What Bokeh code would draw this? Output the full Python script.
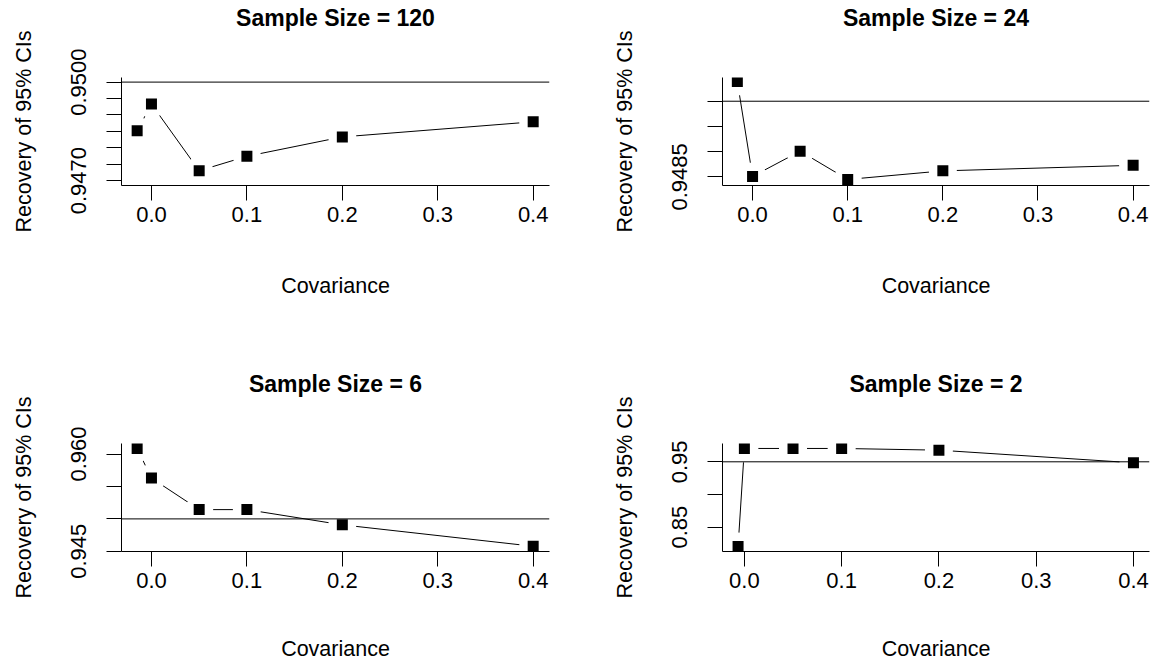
from bokeh.plotting import figure
from bokeh.models import (Range1d, FixedTicker, NumeralTickFormatter, Span,
                          LinearAxis)
from bokeh.layouts import gridplot
from bokeh.embed import file_html
from bokeh.resources import INLINE

# Coverage of nominal 95% confidence intervals by covariance, one panel per sample size
cov_120 = [-0.015, 0.0, 0.05, 0.1, 0.2, 0.4]
rec_120 = [0.94852, 0.94933, 0.94730, 0.94774, 0.94833, 0.94879]

cov_24 = [-0.016, 0.0, 0.05, 0.1, 0.2, 0.4]
rec_24 = [0.95039, 0.94851, 0.94901, 0.94845, 0.94862, 0.94873]

cov_6 = [-0.015, 0.0, 0.05, 0.1, 0.2, 0.4]
rec_6 = [0.96087, 0.95629, 0.95143, 0.95143, 0.94908, 0.94578]

cov_2 = [-0.0065, 0.0, 0.05, 0.1, 0.2, 0.4]
rec_2 = [0.8204, 0.9704, 0.9704, 0.9704, 0.9678, 0.9485]

nominal = 0.95

x_ticks = [0.0, 0.1, 0.2, 0.3, 0.4]

# labelled y ticks and the unlabelled ones in between
y_lab_120 = [0.9470, 0.9500]
y_mid_120 = [0.9475, 0.9480, 0.9485, 0.9490, 0.9495]
y_lab_24 = [0.9485]
y_mid_24 = [0.9490, 0.9495, 0.9500]
y_lab_6 = [0.945, 0.960]
y_mid_6 = [0.950, 0.955]
y_lab_2 = [0.85, 0.95]
y_mid_2 = [0.90]

FONT = "Liberation Sans"


def style_axis(ax):
    ax.axis_line_color = "black"
    ax.axis_line_width = 1
    ax.major_tick_line_color = "black"
    ax.minor_tick_line_color = "black"
    ax.major_tick_out = 15
    ax.major_tick_in = 0
    ax.minor_tick_out = 15
    ax.minor_tick_in = 0
    ax.major_label_text_font = FONT
    ax.major_label_text_font_size = "22px"
    ax.major_label_text_color = "black"
    ax.axis_label_text_font = FONT
    ax.axis_label_text_font_size = "21.5px"
    ax.axis_label_text_font_style = "normal"
    ax.axis_label_text_color = "black"


def panel(title, cov, rec, xr, yr, y_lab, y_mid, y_fmt, width, height,
          left, right, top, bottom, xlab_gap):
    p = figure(width=width, height=height, title=None,
               x_range=Range1d(*xr), y_range=Range1d(*yr),
               output_backend="svg", toolbar_location=None,
               min_border_left=left, min_border_right=right,
               min_border_top=top, min_border_bottom=bottom,
               background_fill_color="white", border_fill_color="white")
    p.outline_line_color = None
    p.xgrid.visible = False
    p.ygrid.visible = False

    style_axis(p.xaxis[0])
    style_axis(p.yaxis[0])

    p.xaxis.ticker = FixedTicker(ticks=x_ticks, minor_ticks=[])
    p.xaxis.formatter = NumeralTickFormatter(format="0.0")
    p.xaxis.axis_label = "Covariance"
    p.xaxis.major_label_standoff = 6
    p.xaxis.axis_label_standoff = xlab_gap

    p.yaxis.ticker = FixedTicker(ticks=y_lab, minor_ticks=y_mid)
    p.yaxis.formatter = NumeralTickFormatter(format=y_fmt)
    p.yaxis.major_label_orientation = "vertical"
    p.yaxis.axis_label = "Recovery of 95% CIs"
    p.yaxis.major_label_standoff = 20
    p.yaxis.axis_label_standoff = 33

    # heading: a bare axis above the plot carrying only its label
    head = LinearAxis(ticker=FixedTicker(ticks=[], minor_ticks=[]),
                      axis_label=title)
    head.axis_line_color = None
    head.major_tick_out = 0
    head.major_tick_in = 0
    head.minor_tick_out = 0
    head.minor_tick_in = 0
    head.major_label_standoff = 0
    head.axis_label_standoff = 47
    head.axis_label_text_font = FONT
    head.axis_label_text_font_size = "23px"
    head.axis_label_text_font_style = "bold"
    head.axis_label_text_color = "black"
    p.add_layout(head, "above")

    # connecting line, broken around each point
    p.line(cov, rec, line_color="black", line_width=1)
    p.scatter(cov, rec, marker="circle", size=28,
              fill_color="white", line_color=None)
    p.scatter(cov, rec, marker="square", size=11,
              fill_color="black", line_color=None)

    p.add_layout(Span(location=nominal, dimension="width",
                      line_color="black", line_width=1))
    return p


p1 = panel("Sample Size = 120", cov_120, rec_120,
           (-0.0314, 0.4171), (0.94685, 0.95014),
           y_lab_120, y_mid_120, "0.0000",
           575, 331, 121, 26, 77, 146, 49)
p2 = panel("Sample Size = 24", cov_24, rec_24,
           (-0.0316, 0.4172), (0.94833, 0.95047),
           y_lab_24, y_mid_24, "0.0000",
           575, 331, 147, 1, 77, 146, 49)
p3 = panel("Sample Size = 6", cov_6, rec_6,
           (-0.0314, 0.4171), (0.94497, 0.96163),
           y_lab_6, y_mid_6, "0.000",
           575, 332, 121, 26, 112, 111, 46)
p4 = panel("Sample Size = 2", cov_2, rec_2,
           (-0.0225, 0.4165), (0.8128, 0.9780),
           y_lab_2, y_mid_2, "0.00",
           575, 332, 147, 1, 112, 111, 46)

grid = gridplot([[p1, p2], [p3, p4]], toolbar_location=None)

with open("out.html", "w") as f:
    f.write(file_html(grid, INLINE))
